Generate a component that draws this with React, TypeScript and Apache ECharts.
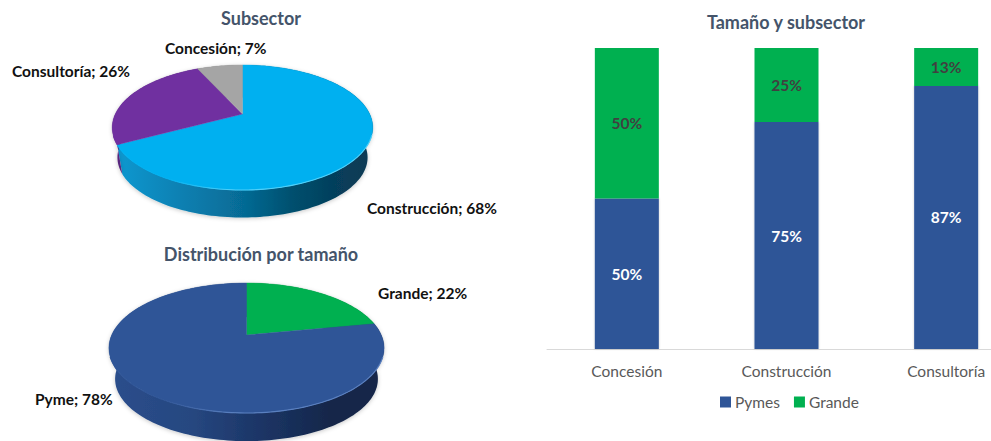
import React, { useEffect, useRef } from "react";
import * as echarts from "echarts";

const FONT = "Lato, Carlito, sans-serif";

// Pie data
const sectorNames = ["Construcción", "Consultoría", "Concesión"];
const sectorValues = [68, 26, 7];
const sizeNames = ["Grande", "Pyme"];
const sizeValues = [22, 78];

// Stacked bar data (bar heights; labels are rounded)
const barCategories = ["Concesión", "Construcción", "Consultoría"];
const pymesValues = [50, 75.4, 87.4];
const grandeValues = [50, 24.6, 12.6];

type Stop = [number, string];
interface PieStyle {
  cx: number; cy: number; a: number; b: number; k: number;
  pivotY: number; shift: number; shrink: number;
  colors: string[];
  walls: Stop[][];
  rims: string[];
  labels: { x: number; y: number }[];
}

const sectorStyle: PieStyle = {
  cx: 242.5, cy: 114, a: 127.2, b: 59.6, k: 0.216,
  pivotY: 127, shift: 30, shrink: 0.96,
  colors: ["#00B0F0", "#7030A0", "#A5A5A5"],
  walls: [
    [[0, "#0F98D0"], [0.25, "#0A80B2"], [0.5, "#066A94"], [0.68, "#04506F"], [0.85, "#063F5C"], [1, "#0A3A54"]],
    [[0, "#5A2780"], [1, "#4A1F6A"]],
    [[0, "#808080"], [1, "#808080"]],
  ],
  rims: ["#4FD0FA", "#7030A0", "#A5A5A5"],
  labels: [{ x: 367, y: 208 }, { x: 12, y: 71 }, { x: 165, y: 48 }],
};

const sizeStyle: PieStyle = {
  cx: 246.5, cy: 335, a: 134.8, b: 62.4, k: 0.2,
  pivotY: 348, shift: 31, shrink: 0.955,
  colors: ["#00B050", "#2F5597"],
  walls: [
    [[0, "#008A3E"], [1, "#006B30"]],
    [[0, "#2B4E8C"], [0.3, "#264780"], [0.55, "#1C3566"], [0.8, "#14274A"], [1, "#14264A"]],
  ],
  rims: ["#00B050", "#5A80C0"],
  labels: [{ x: 378, y: 293 }, { x: 35, y: 399 }],
};

function rimPoint(s: PieStyle, frac: number): number[] {
  const t = frac * Math.PI * 2;
  const u = Math.sin(t);
  const v = -Math.cos(t);
  const w = 1 - s.k * v;
  return [s.cx + (s.a * u) / w, s.cy + (s.b * v) / w];
}

function arc(s: PieStyle, f0: number, f1: number): number[][] {
  const n = Math.max(2, Math.ceil((f1 - f0) * 240));
  const pts: number[][] = [];
  for (let i = 0; i <= n; i++) pts.push(rimPoint(s, f0 + ((f1 - f0) * i) / n));
  return pts;
}

function slices(values: number[]) {
  const total = values.reduce((p, c) => p + c, 0);
  let acc = 0;
  return values.map((v) => {
    const f0 = acc / total;
    acc += v;
    return [f0, acc / total];
  });
}

function wallSeries(values: number[], s: PieStyle) {
  const ranges = slices(values);
  return {
    type: "custom",
    coordinateSystem: "none",
    silent: true,
    z: 2,
    data: values.map((v) => [v]),
    renderItem: (p: any) => {
      const [f0, f1] = ranges[p.dataIndex];
      const rim = arc(s, f0, f1);
      const low = rim
        .map((q) => [
          s.cx + (q[0] - s.cx) * s.shrink,
          s.pivotY + (q[1] - s.pivotY) * s.shrink + s.shift,
        ])
        .reverse();
      return {
        type: "polygon",
        shape: { points: rim.concat(low) },
        style: {
          fill: new echarts.graphic.LinearGradient(
            0, 0, 1, 0,
            s.walls[p.dataIndex].map(([offset, color]) => ({ offset, color }))
          ),
          shadowBlur: 4,
          shadowOffsetY: 1,
          shadowColor: "rgba(0,0,0,0.22)",
        },
      };
    },
  };
}

function topSeries(values: number[], names: string[], s: PieStyle) {
  const ranges = slices(values);
  return {
    type: "custom",
    coordinateSystem: "none",
    silent: true,
    z: 3,
    data: values.map((v) => [v]),
    renderItem: (p: any) => {
      const i = p.dataIndex;
      const [f0, f1] = ranges[i];
      const rim = arc(s, f0, f1);
      const front = rim.filter((q) => q[1] > s.pivotY + 8);
      const children: any[] = [
        {
          type: "polygon",
          shape: { points: [[s.cx, s.cy], ...rim] },
          style: { fill: s.colors[i], stroke: s.colors[i], lineWidth: 0.4 },
        },
      ];
      if (front.length > 1) {
        children.push({
          type: "polyline",
          shape: { points: front },
          style: {
            fill: "none",
            lineWidth: 1.1,
            stroke: new echarts.graphic.LinearGradient(1, 0, 0, 0, [
              { offset: 0, color: s.rims[i] },
              { offset: 0.55, color: s.rims[i] },
              { offset: 0.8, color: s.colors[i] },
              { offset: 1, color: s.colors[i] },
            ]),
          },
        });
      }
      children.push({
        type: "text",
        style: {
          x: s.labels[i].x,
          y: s.labels[i].y,
          text: `${names[i]}; ${values[i]}%`,
          fill: "#111111",
          font: `bold 15.5px ${FONT}`,
          textAlign: "left",
          textVerticalAlign: "middle",
        },
      });
      return { type: "group", children };
    },
  };
}

const titleStyle = { color: "#44546A", fontFamily: FONT, fontWeight: "bold" as const, fontSize: 18 };
const roundedPct = (p: any) => `${Math.round(p.value)}%`;

export default function App() {
  const ref = useRef<HTMLDivElement>(null);
  useEffect(() => {
    const chart = echarts.init(ref.current!, undefined, { renderer: "svg" });
    chart.setOption({
      animation: false,
      backgroundColor: "#ffffff",
      title: [
        { text: "Subsector", left: 261, top: 9, padding: 0, textAlign: "center", textStyle: titleStyle },
        { text: "Distribución por tamaño", left: 261, top: 245, padding: 0, textAlign: "center", textStyle: titleStyle },
        { text: "Tamaño y subsector", left: 786, top: 13, padding: 0, textAlign: "center", textStyle: titleStyle },
      ],
      legend: {
        left: 720,
        top: 394,
        padding: 0,
        itemWidth: 11,
        itemHeight: 11,
        itemGap: 14,
        selectedMode: false,
        icon: "rect",
        data: ["Pymes", "Grande"],
        textStyle: { color: "#595959", fontFamily: FONT, fontSize: 15.5, padding: [0, 0, 0, -1] },
      },
      grid: { left: 547, top: 48, width: 479, height: 301, outerBoundsMode: "none", containLabel: false },
      xAxis: {
        type: "category",
        data: barCategories,
        axisTick: { show: false },
        axisLine: { lineStyle: { color: "#D9D9D9", width: 1 } },
        axisLabel: { color: "#595959", fontFamily: FONT, fontSize: 15.5, margin: 14, hideOverlap: false },
      },
      yAxis: { type: "value", min: 0, max: 100, show: false, splitLine: { show: false } },
      series: [
        {
          name: "Pymes",
          type: "bar",
          stack: "t",
          barWidth: 64,
          data: pymesValues,
          itemStyle: { color: "#2F5597", shadowBlur: 2, shadowColor: "rgba(0,0,0,0.2)" },
          label: {
            show: true, position: "inside", formatter: roundedPct,
            color: "#ffffff", fontFamily: FONT, fontWeight: "bold", fontSize: 15.5,
          },
        },
        {
          name: "Grande",
          type: "bar",
          stack: "t",
          barWidth: 64,
          data: grandeValues,
          itemStyle: { color: "#00B050" },
          label: {
            show: true, position: "inside", formatter: roundedPct,
            color: "#404040", fontFamily: FONT, fontWeight: "bold", fontSize: 15.5,
          },
        },
        wallSeries(sectorValues, sectorStyle),
        topSeries(sectorValues, sectorNames, sectorStyle),
        wallSeries(sizeValues, sizeStyle),
        topSeries(sizeValues, sizeNames, sizeStyle),
      ],
    });
    return () => chart.dispose();
  }, []);
  return (
    <div
      ref={ref}
      style={{ position: "absolute", left: 0, top: 0, width: 991, height: 441 }}
    />
  );
}
